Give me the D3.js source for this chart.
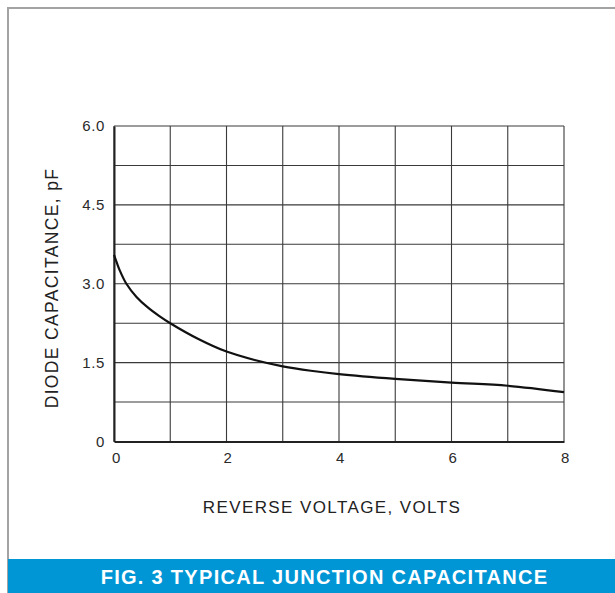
<!DOCTYPE html>
<html><head><meta charset="utf-8">
<script src="https://cdn.jsdelivr.net/npm/d3@7"></script>
<style>
html,body{margin:0;padding:0;background:#fff;}
svg{display:block;}
text{font-family:"Liberation Sans",Arial,Helvetica,sans-serif;}
</style></head>
<body>
<svg id="chart" width="615" height="593"></svg>
<script>
// Data
const voltage = [0, 0.05, 0.1, 0.22, 0.4, 0.6, 0.8, 1, 1.5, 2, 2.5, 3, 3.5, 4, 5, 6, 7, 8];
const capacitance = [3.55, 3.40, 3.26, 3.0, 2.75, 2.55, 2.39, 2.25, 1.95, 1.71, 1.55, 1.43, 1.345, 1.28, 1.19, 1.12, 1.06, 0.94];
const xTicks = [0, 2, 4, 6, 8];
const yTicks = [0, 1.5, 3, 4.5, 6];
const xGrid = [0, 1, 2, 3, 4, 5, 6, 7, 8];
const yGrid = [0, 0.75, 1.5, 2.25, 3, 3.75, 4.5, 5.25, 6];
const xTitle = "REVERSE VOLTAGE, VOLTS";
const yTitle = "DIODE CAPACITANCE, pF";
const caption = "FIG. 3 TYPICAL JUNCTION CAPACITANCE";

const svg = d3.select("#chart");

// frame
svg.append("rect").attr("x", 8).attr("y", 8).attr("width", 620).attr("height", 600)
  .attr("fill", "#fff").attr("stroke", "#a3a3a3").attr("stroke-width", 2);

const x = d3.scaleLinear().domain([0, 8]).range([114, 564]);
const y = d3.scaleLinear().domain([0, 6]).range([441.5, 126]);

const g = svg.append("g");

// grid
g.selectAll(".vg").data(xGrid).enter().append("line")
  .attr("x1", d => x(d)).attr("x2", d => x(d))
  .attr("y1", y(0)).attr("y2", y(6))
  .attr("stroke", "#3a3a3a").attr("stroke-width", 1.1);
g.selectAll(".hg").data(yGrid).enter().append("line")
  .attr("x1", x(0)).attr("x2", x(8))
  .attr("y1", d => y(d)).attr("y2", d => y(d))
  .attr("stroke", "#3a3a3a").attr("stroke-width", 1.1);

// axes
const xAxis = d3.axisBottom(x).tickValues(xTicks).tickSize(0).tickPadding(11).tickFormat(d3.format("d"));
const yAxis = d3.axisLeft(y).tickValues(yTicks).tickSize(0).tickPadding(9)
  .tickFormat(d => d === 0 ? "0" : d3.format(".1f")(d));

const gx = svg.append("g").attr("transform", `translate(0,${y(0)})`).call(xAxis);
const gy = svg.append("g").attr("transform", `translate(${x(0)},0)`).call(yAxis);
[gx, gy].forEach(a => {
  a.select(".domain").attr("stroke", "#222").attr("stroke-width", 2);
  a.selectAll("text").attr("fill", "#2a2a2a").style("font-size", "15px")
    .style("font-family", '"Liberation Sans",Arial,sans-serif').style("letter-spacing", "0.6px");
});
gx.selectAll(".tick text").attr("dx", d => d === 0 ? 2 : 1);

// curve
const data = voltage.map((v, i) => [v, capacitance[i]]);
svg.append("path").datum(data)
  .attr("fill", "none").attr("stroke", "#111").attr("stroke-width", 2.2)
  .attr("d", d3.line().x(d => x(d[0])).y(d => y(d[1])).curve(d3.curveCatmullRom.alpha(0.5)));

// titles
svg.append("text").attr("x", 332).attr("y", 512.5).attr("text-anchor", "middle")
  .attr("fill", "#222").style("font-size", "17px").style("letter-spacing", "1.4px").text(xTitle);
svg.append("text").attr("transform", "translate(58,288) rotate(-90)").attr("text-anchor", "middle")
  .attr("fill", "#222").style("font-size", "17.5px").style("letter-spacing", "1.35px").text(yTitle);

// caption banner
svg.append("rect").attr("x", 8).attr("y", 559).attr("width", 607).attr("height", 34).attr("fill", "#0096d6");
svg.append("text").attr("x", 324.5).attr("y", 583.5).attr("text-anchor", "middle")
  .attr("fill", "#fff").style("font-size", "20px").style("font-weight", "bold").style("letter-spacing", "1.3px")
  .text(caption);
</script>
</body></html>
